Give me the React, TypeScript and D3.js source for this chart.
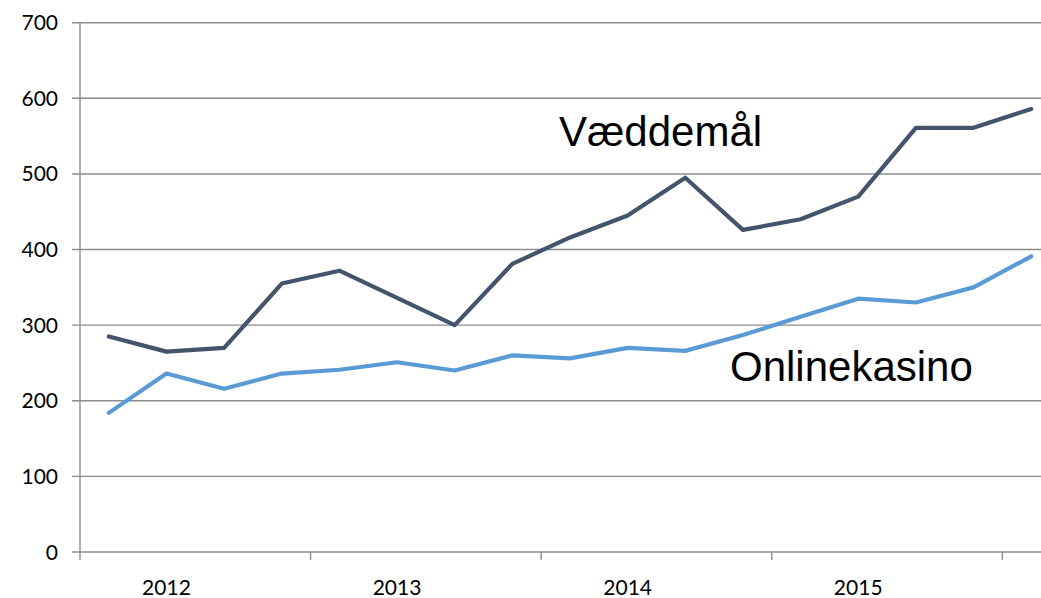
import React from 'react'
import * as d3 from 'd3'

// quarterly figures, 2011 Q4 .. 2015 Q4
const quarters = [
  '2011 K4', '2012 K1', '2012 K2', '2012 K3', '2012 K4',
  '2013 K1', '2013 K2', '2013 K3', '2013 K4',
  '2014 K1', '2014 K2', '2014 K3', '2014 K4',
  '2015 K1', '2015 K2', '2015 K3', '2015 K4',
]
const vaeddemaal = [285, 265, 270, 355, 372, 336, 300, 381, 416, 445, 495, 426, 440, 470, 561, 561, 586]
const onlinekasino = [184, 236, 216, 236, 241, 251, 240, 260, 256, 270, 266, 287, 311, 335, 330, 350, 391]
const yearLabels = ['2012', '2013', '2014', '2015']
const yTicks = [0, 100, 200, 300, 400, 500, 600, 700]

const W = 1041
const H = 598
const gridColor = '#8c8c8c'
const labelFont = 'Lato, "Open Sans", sans-serif'

function App() {
  const x = d3.scaleBand<string>().domain(quarters).range([80, 1060]).padding(0)
  const y = d3.scaleLinear().domain([0, 700]).range([552, 22.7])
  const cx = (q: string) => (x(q) as number) + x.bandwidth() / 2

  const line = d3
    .line<number>()
    .x((_, i) => cx(quarters[i]))
    .y((d) => y(d))

  // a tick every fourth quarter, a year label on the second quarter of each block
  const tickQuarters = quarters.filter((_, i) => i % 4 === 0)

  return (
    <svg width={W} height={H} style={{ position: 'absolute', left: 0, top: 0, background: '#fff' }}>
      {yTicks.map((t) => (
        <g key={t}>
          <line x1={72} x2={W} y1={y(t)} y2={y(t)} stroke={gridColor} strokeWidth={1.4} />
          <text x={58} y={y(t)} dy="0.36em" textAnchor="end" fontFamily={labelFont} fontSize={21} fill="#000">
            {t}
          </text>
        </g>
      ))}
      <line x1={80} x2={80} y1={y(700)} y2={y(0)} stroke={gridColor} strokeWidth={1.4} />
      {tickQuarters.map((q) => (
        <line key={q} x1={x(q)} x2={x(q)} y1={y(0)} y2={y(0) + 8} stroke={gridColor} strokeWidth={1.4} />
      ))}
      {yearLabels.map((yr, i) => (
        <text key={yr} x={cx(quarters[i * 4 + 1])} y={595} textAnchor="middle" fontFamily={labelFont} fontSize={21} fill="#000">
          {yr}
        </text>
      ))}
      <path d={line(onlinekasino) ?? ''} fill="none" stroke="#5b9bd5" strokeWidth={4.2} strokeLinejoin="round" strokeLinecap="round" />
      <path d={line(vaeddemaal) ?? ''} fill="none" stroke="#44546a" strokeWidth={4.2} strokeLinejoin="round" strokeLinecap="round" />
      <text x={559} y={146} fontFamily='"Liberation Sans", Arial, sans-serif' fontSize={42} fill="#000">
        Væddemål
      </text>
      <text x={730} y={381} fontFamily='"Liberation Sans", Arial, sans-serif' fontSize={42} fill="#000">
        Onlinekasino
      </text>
    </svg>
  )
}

export default App
